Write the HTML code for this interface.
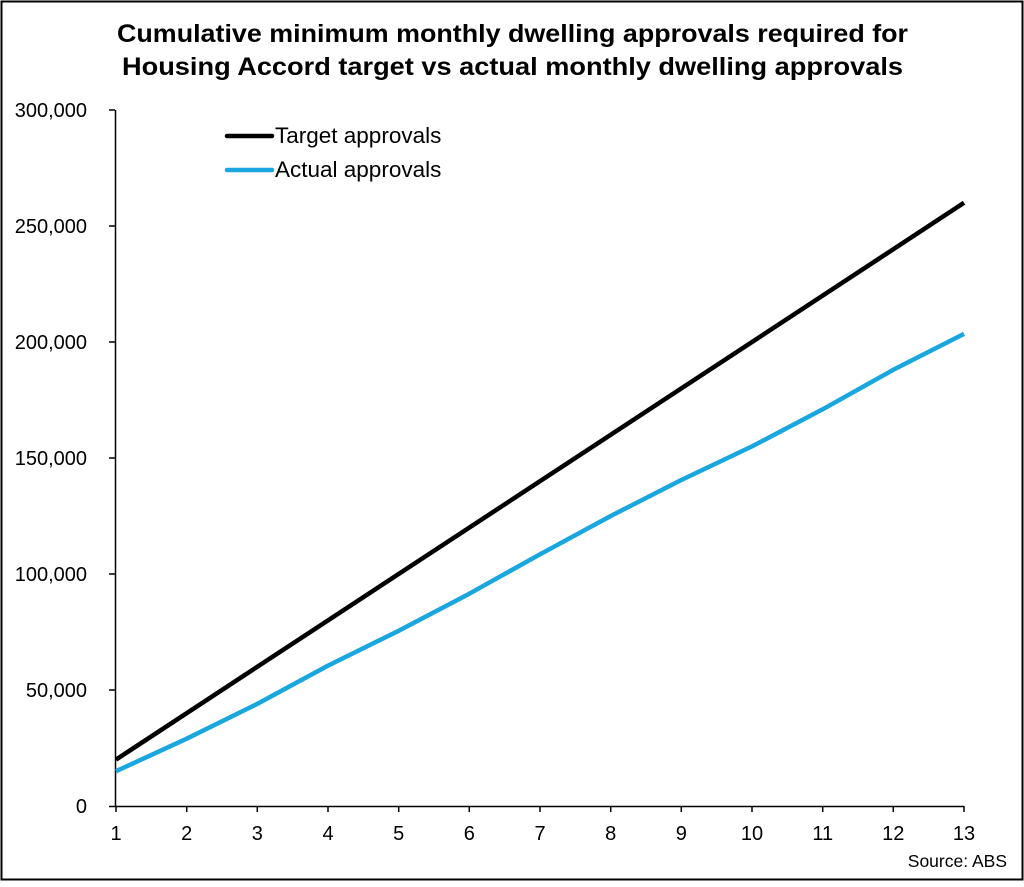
<!DOCTYPE html>
<html><head><style>html,body{margin:0;padding:0;background:#fff}</style></head><body>
<svg width="1024" height="882" xmlns="http://www.w3.org/2000/svg" font-family="Liberation Sans, Arial, sans-serif">
<rect x="1.5" y="1.5" width="1021" height="878" fill="#fff" stroke="#000" stroke-width="2"/>
<text x="117" y="42" font-size="25" font-weight="bold" textLength="791" lengthAdjust="spacingAndGlyphs">Cumulative minimum monthly dwelling approvals required for</text>
<text x="122" y="75" font-size="25" font-weight="bold" textLength="781" lengthAdjust="spacingAndGlyphs">Housing Accord target vs actual monthly dwelling approvals</text>
<g stroke="#000" stroke-width="1.5" fill="none">
<line x1="115.5" y1="110" x2="115.5" y2="806"/>
<line x1="109" y1="806.5" x2="964" y2="806.5"/>
<line x1="109" y1="110" x2="115" y2="110"/>
<line x1="109" y1="226" x2="115" y2="226"/>
<line x1="109" y1="342" x2="115" y2="342"/>
<line x1="109" y1="458" x2="115" y2="458"/>
<line x1="109" y1="574" x2="115" y2="574"/>
<line x1="109" y1="690" x2="115" y2="690"/>
<path d="M116 806v6M186.7 806v6M257.3 806v6M328 806v6M398.7 806v6M469.3 806v6M540 806v6M610.7 806v6M681.3 806v6M752 806v6M822.7 806v6M893.3 806v6M964 806v6"/>
</g>
<g font-size="20" text-anchor="end">
<text x="87" y="117">300,000</text><text x="87" y="233">250,000</text><text x="87" y="349">200,000</text>
<text x="87" y="465">150,000</text><text x="87" y="581">100,000</text><text x="87" y="697">50,000</text><text x="87" y="813">0</text>
</g>
<g font-size="20" text-anchor="middle">
<text x="116" y="840">1</text><text x="186.7" y="840">2</text><text x="257.3" y="840">3</text><text x="328" y="840">4</text><text x="398.7" y="840">5</text><text x="469.3" y="840">6</text><text x="540" y="840">7</text><text x="610.7" y="840">8</text><text x="681.3" y="840">9</text><text x="752" y="840">10</text><text x="822.7" y="840">11</text><text x="893.3" y="840">12</text><text x="964" y="840">13</text>
</g>
<text x="1007" y="867" font-size="17.5" text-anchor="end">Source: ABS</text>
<polyline fill="none" stroke="#000" stroke-width="4.5" points="116,759.6 964,202.8"/>
<polyline fill="none" stroke="#1aa7e0" stroke-width="4.5" stroke-linejoin="round" points="116,771.2 186.7,738.7 257.3,703.9 328,665.6 398.7,630.8 469.3,593.7 540,554.3 610.7,516 681.3,480 752,446.4 822.7,409.3 893.3,369.8 964,333.9"/>
<line x1="227" y1="136" x2="272" y2="136" stroke="#000" stroke-width="4.5" stroke-linecap="round"/>
<line x1="227" y1="170" x2="272" y2="170" stroke="#1aa7e0" stroke-width="4.5" stroke-linecap="round"/>
<text x="275" y="143" font-size="22.5">Target approvals</text>
<text x="275" y="177" font-size="22.5">Actual approvals</text>
</svg>
</body></html>
